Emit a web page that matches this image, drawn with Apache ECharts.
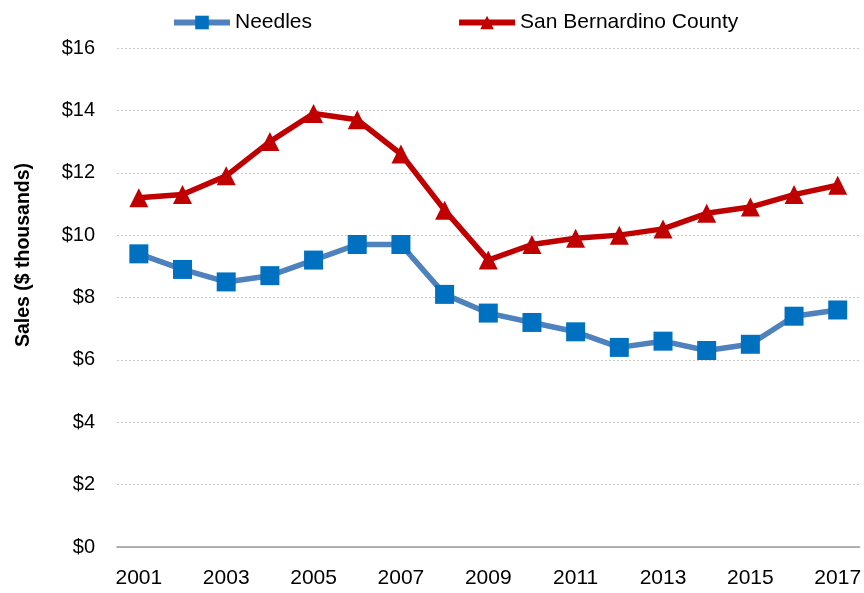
<!DOCTYPE html>
<html>
<head>
<meta charset="utf-8">
<script src="https://cdn.jsdelivr.net/npm/echarts@6/dist/echarts.min.js"></script>
<style>
  html, body { margin: 0; padding: 0; background: #fff; }
  #chart { width: 864px; height: 593px; }
</style>
</head>
<body>
<div id="chart"></div>
<script>
// Annual sales per capita, $ thousands
const years = ['2001','2002','2003','2004','2005','2006','2007','2008','2009',
               '2010','2011','2012','2013','2014','2015','2016','2017'];
const needles = [9.4, 8.9, 8.5, 8.7, 9.2, 9.7, 9.7, 8.1, 7.5, 7.2, 6.9, 6.4, 6.6, 6.3, 6.5, 7.4, 7.6];
const sanBernardino = [11.2, 11.3, 11.9, 13.0, 13.9, 13.7, 12.6, 10.8, 9.2, 9.7, 9.9, 10.0, 10.2, 10.7, 10.9, 11.3, 11.6];
const yTicks = [0, 2, 4, 6, 8, 10, 12, 14, 16];
const yTitle = 'Sales ($ thousands)';

const font = '"Liberation Sans", Arial, sans-serif';
const chart = echarts.init(document.getElementById('chart'), null, { renderer: 'canvas' });

chart.setOption({
  animation: false,
  legend: {
    top: 7,
    left: 166,
    itemGap: 144,
    itemWidth: 56,
    itemHeight: 17,
    lineStyle: { width: 6 },
    textStyle: { fontFamily: font, fontSize: 21, color: '#000' },
    data: ['Needles', 'San Bernardino County']
  },
  grid: { left: 117, right: 2, top: 48, bottom: 46 },
  graphic: [{
    type: 'text',
    x: 24,
    y: 255,
    rotation: Math.PI / 2,
    style: {
      text: yTitle,
      align: 'center',
      verticalAlign: 'middle',
      fontFamily: font,
      fontSize: 19.5,
      fontWeight: 'bold',
      fill: '#000'
    }
  }],
  xAxis: {
    type: 'category',
    data: years,
    boundaryGap: true,
    axisLine: { lineStyle: { color: '#999', width: 1.5 } },
    axisTick: { show: false },
    axisLabel: {
      interval: 1,
      margin: 21,
      fontFamily: font,
      fontSize: 21,
      color: '#000'
    }
  },
  yAxis: {
    type: 'value',
    min: yTicks[0],
    max: yTicks[yTicks.length - 1],
    interval: 2,
    axisLine: { show: false },
    axisTick: { show: false },
    axisLabel: {
      margin: 22,
      fontFamily: font,
      fontSize: 20,
      color: '#000',
      formatter: v => '$' + v
    },
    splitLine: { lineStyle: { color: '#c8c8c8', type: [2, 2], width: 1 } }
  },
  series: [
    {
      name: 'Needles',
      type: 'line',
      data: needles,
      symbol: 'rect',
      symbolSize: 19,
      lineStyle: { color: '#4F81BD', width: 5.5 },
      itemStyle: { color: '#0070C0' }
    },
    {
      name: 'San Bernardino County',
      type: 'line',
      data: sanBernardino,
      symbol: 'triangle',
      symbolSize: 19,
      lineStyle: { color: '#C00000', width: 5.5 },
      itemStyle: { color: '#C00000' }
    }
  ]
});
</script>
</body>
</html>
